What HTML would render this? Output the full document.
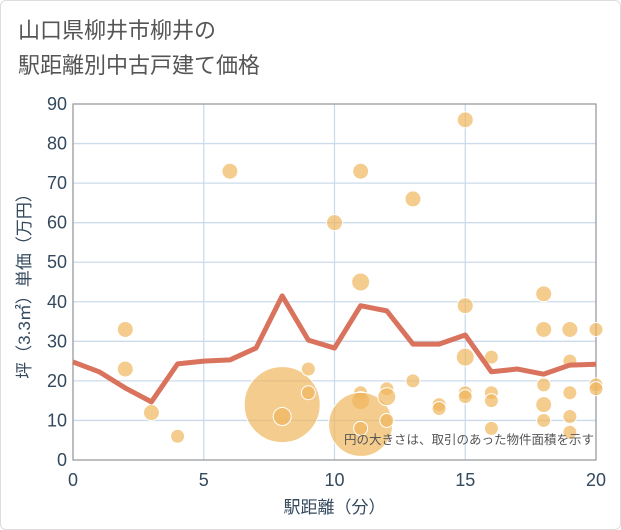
<!DOCTYPE html>
<html><head><meta charset="utf-8"><style>
html,body{margin:0;padding:0;background:#fff;}
body{width:621px;height:530px;overflow:hidden;font-family:"Liberation Sans","Noto Sans CJK JP",sans-serif;}
#frame{position:absolute;left:0;top:0;width:619px;height:528px;border:1px solid #ddd;border-radius:6px;}
#title{position:absolute;left:18px;top:13px;font-size:22px;line-height:35px;color:#555;}
</style></head><body>
<div id="frame"></div>
<div id="title">山口県柳井市柳井の<br>駅距離別中古戸建て価格</div>
<svg id="chart" width="621" height="530" style="position:absolute;left:0;top:0"></svg>
<script>
const xTicks=[0,5,10,15,20];
const yTicks=[0,10,20,30,40,50,60,70,80,90];
const lineX=[0,1,2,3,4,5,6,7,8,9,10,11,12,13,14,15,16,17,18,19,20];
const lineY=[24.8,22.3,18.2,14.7,24.3,25,25.3,28.3,41.5,30.3,28.3,39,37.7,29.3,29.3,31.6,22.3,23,21.7,24,24.2];
const bubbleX=[2,2,3,4,6,8,8,9,9,10,11,11,11,11,11,11,12,12,12,13,13,14,14,15,15,15,15,15,16,16,16,16,18,18,18,18,18,19,19,19,19,19,20,20,20];
const bubbleY=[33,23,12,6,73,14,11,23,17,60,73,45,17,15,9,8,18,16,10,66,20,14,13,86,39,26,17,16,26,17,15,8,42,33,19,14,10,33,25,17,11,7,33,19,18];
const bubbleR=[8,8,8,7,8,38,9,7,7,8,8,9,7,9,32,7,7,9,7,8,7,7,7,8,8,9,7,7,7,7,7,7,8,8,7,8,7,8,7,7,7,7,7,7,7];
const L=73,R=596,T=104,B=460;
const xs=v=>L+(v-0)/20*(R-L);
const ys=v=>B-(v/90)*(B-T);
const svg=document.getElementById('chart');
const NS='http://www.w3.org/2000/svg';
function mk(t,a){const e=document.createElementNS(NS,t);for(const k in a)e.setAttribute(k,a[k]);svg.appendChild(e);return e;}
yTicks.forEach(v=>{
 const g=mk('line',{x1:L,x2:R,y1:ys(v),y2:ys(v),stroke:'#ccdbeb','stroke-width':1.3});
 
 
 const t=mk('text',{x:L-6,y:ys(v)+6,'text-anchor':'end','font-size':18,fill:'#34495e'});
 t.textContent=v;
 
 
});
xTicks.forEach(v=>{
 const g=mk('line',{x1:xs(v),x2:xs(v),y1:T,y2:B,stroke:'#ccdbeb','stroke-width':1.3});
 
 
 const t=mk('text',{x:xs(v),y:B+26,'text-anchor':'middle','font-size':18,fill:'#34495e'});
 t.textContent=v;
 
 
});
const box=mk('rect',{x:L,y:T,width:R-L,height:B-T,fill:'none',stroke:'#999','stroke-width':1.2});


bubbleX.forEach((x,i)=>{
 const c=mk('circle',{cx:xs(x),cy:ys(bubbleY[i]),r:bubbleR[i],fill:'#f0b75e','fill-opacity':0.7,stroke:'#fff','stroke-width':1});
 
 
});
const p=mk('polyline',{points:lineX.map((x,i)=>xs(x)+','+ys(lineY[i])).join(' '),fill:'none',stroke:'#d9735e','stroke-width':5,'stroke-linejoin':'round'});


const n=mk('text',{x:R-2,y:444,'text-anchor':'end','font-size':12.5,fill:'#555'});
n.textContent='円の大きさは、取引のあった物件面積を示す';


const xt=mk('text',{x:(L+R)/2,y:513,'text-anchor':'middle','font-size':17,fill:'#34495e'});
xt.textContent='駅距離（分）';


const yt=mk('text',{x:0,y:0,'text-anchor':'middle','font-size':17,fill:'#34495e',transform:'translate(30,'+((T+B)/2)+') rotate(-90)'});
yt.textContent='坪（3.3㎡）単価（万円）';


</script>
</body></html>
